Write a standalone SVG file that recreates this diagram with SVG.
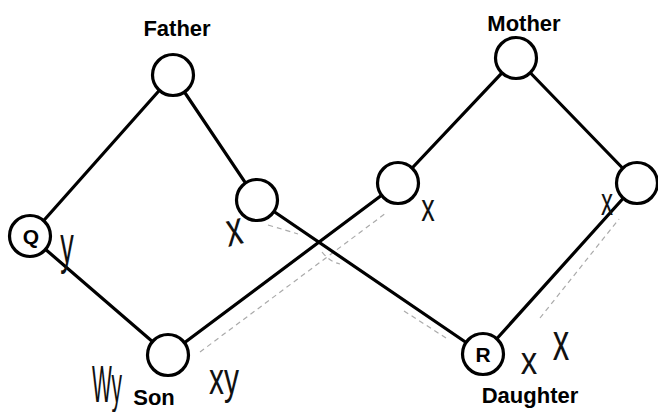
<svg xmlns="http://www.w3.org/2000/svg" width="658" height="412" viewBox="0 0 658 412">
<style>
.edge{stroke:#000;stroke-width:3.2;fill:none;stroke-linecap:round}
.node{fill:#fff;stroke:#000;stroke-width:3.2}
.lbl{font-family:"Liberation Sans",Arial,sans-serif;font-weight:bold;font-size:22px;fill:#000;text-anchor:middle}
.in{font-family:"Liberation Sans",Arial,sans-serif;font-weight:bold;font-size:21px;fill:#000;text-anchor:middle}
.hw{font-family:"Liberation Sans",Arial,sans-serif;font-weight:normal;font-size:30px;fill:#111;text-anchor:middle}
.pencil{stroke:#aaa;stroke-width:1.2;fill:none;stroke-dasharray:5 4}
</style>
<rect width="658" height="412" fill="#fff"/>
<g id="pencil-marks">
<line class="pencil" x1="200" y1="352" x2="386" y2="213"/>
<line class="pencil" x1="540" y1="318" x2="619" y2="219"/>
<line class="pencil" x1="404" y1="311" x2="446" y2="338"/>
<path class="pencil" d="M268 225 Q285 230 298 234" stroke-dasharray="none"/>
<path class="pencil" d="M322 252 Q330 262 340 264" stroke-dasharray="none"/>
</g>
<g id="connectors">
<line class="edge" x1="173" y1="75" x2="30" y2="236"/>
<line class="edge" x1="173" y1="75" x2="257" y2="200"/>
<line class="edge" x1="257" y1="200" x2="483" y2="354"/>
<line class="edge" x1="30" y1="236" x2="168" y2="355"/>
<line class="edge" x1="168" y1="355" x2="398" y2="183"/>
<line class="edge" x1="516" y1="58" x2="398" y2="183"/>
<line class="edge" x1="516" y1="58" x2="637" y2="183"/>
<line class="edge" x1="637" y1="183" x2="483" y2="354"/>
</g>
<g id="father"><circle class="node" cx="173" cy="75" r="20.5"/><text class="lbl" x="177" y="36">Father</text></g>
<g id="father-child"><circle class="node" cx="257" cy="200" r="20.5"/></g>
<g id="q"><circle class="node" cx="30" cy="236" r="20.5"/><text class="in" x="31" y="244">Q</text></g>
<g id="son"><circle class="node" cx="168" cy="355" r="20.5"/><text class="lbl" x="154" y="405">Son</text></g>
<g id="mother"><circle class="node" cx="516" cy="58" r="20.5"/><text class="lbl" x="524" y="31">Mother</text></g>
<g id="mother-left-child"><circle class="node" cx="398" cy="183" r="20.5"/></g>
<g id="mother-right-child"><circle class="node" cx="637" cy="183" r="20.5"/></g>
<g id="r"><circle class="node" cx="483" cy="354" r="20.5"/><text class="in" x="483" y="362">R</text></g>
<g id="daughter-label"><text class="lbl" x="530" y="403">Daughter</text></g>
<g id="annotations">
<text class="hw" transform="translate(67 263) scale(0.9 1.7)">y</text>
<text class="hw" transform="translate(236 245) scale(1.1 1.6) rotate(-10)">x</text>
<text class="hw" transform="translate(224 394) scale(1 1.5)">xy</text>
<text class="hw" transform="translate(107 402) scale(0.7 1.7)">Wy</text>
<text class="hw" transform="translate(428 221) scale(0.9 1.3)">x</text>
<text class="hw" transform="translate(607 215) scale(0.8 1.3)">x</text>
<text class="hw" transform="translate(529 374) scale(1.1 1.3)">x</text>
<text class="hw" transform="translate(561 360) scale(1.1 1.8)">x</text>
</g>
</svg>
